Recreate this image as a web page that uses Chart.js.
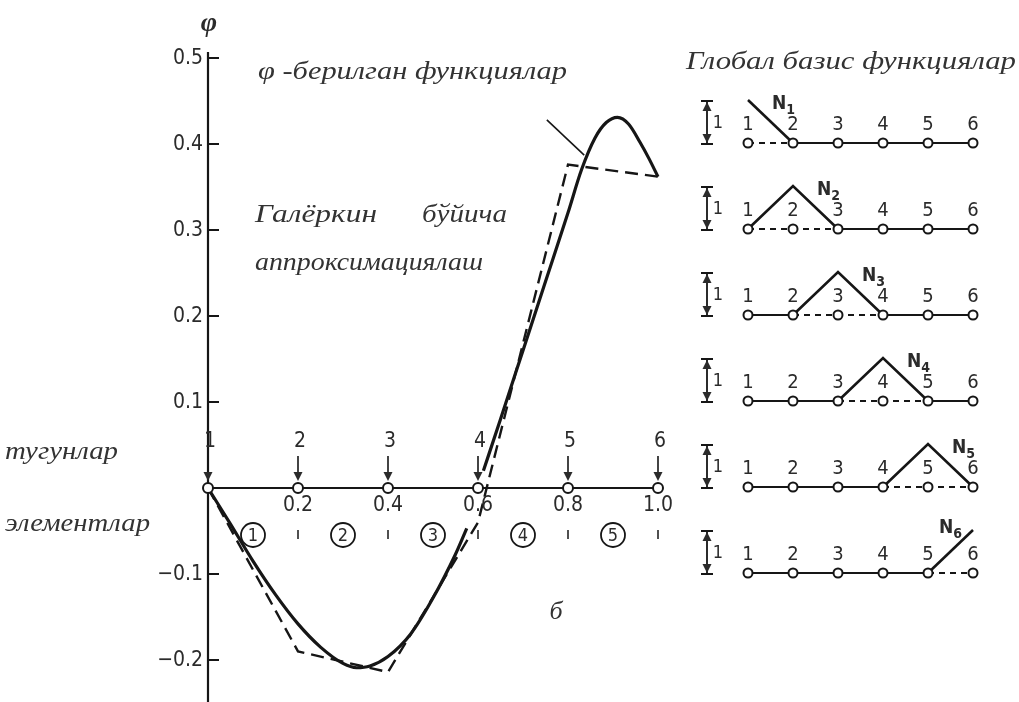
<!DOCTYPE html>
<html>
<head>
<meta charset="utf-8">
<script src="https://cdn.jsdelivr.net/npm/chart.js@4.4.1/dist/chart.umd.min.js"></script>
<style>
  html, body { margin: 0; background: #fff; }
  #wrap { position: relative; width: 1019px; height: 702px; }
</style>
</head>
<body>
<div id="wrap"><canvas id="chart"></canvas></div>
<script>
// main plot: nodes, ticks, labels
const nodeX = [0, 0.2, 0.4, 0.6, 0.8, 1.0];
const nodeLabels = ["1", "2", "3", "4", "5", "6"];
const elementLabels = ["1", "2", "3", "4", "5"];
const xTicks = [0.2, 0.4, 0.6, 0.8, 1.0];
const xTickLabels = ["0.2", "0.4", "0.6", "0.8", "1.0"];
const yTicks = [0.5, 0.4, 0.3, 0.2, 0.1, -0.1, -0.2];
const yTickLabels = ["0.5", "0.4", "0.3", "0.2", "0.1", "\u22120.1", "\u22120.2"];

// given function phi (solid), broken where it crosses node 4
const phiX = [0, 0.05, 0.1, 0.15, 0.2, 0.25, 0.3, 0.33, 0.36, 0.4, 0.45, 0.5, 0.55, 0.575,
  0.593, 0.612, 0.65, 0.7, 0.75, 0.8, 0.83, 0.86, 0.885, 0.91, 0.935, 0.96, 0.98, 1.0];
const phiY = [0, -0.042, -0.085, -0.124, -0.158, -0.185, -0.204, -0.209, -0.207, -0.196, -0.17, -0.128, -0.077, -0.047,
  null, 0.02, 0.08, 0.16, 0.24, 0.32, 0.37, 0.407, 0.425, 0.431, 0.423, 0.402, 0.383, 0.362];

// Galerkin approximation at the nodes (dashed)
const galerkinY = [0, -0.19, -0.214, -0.04, 0.376, 0.362];

// pointer stroke near the peak
const pointerX = [0.753, 0.836];
const pointerY = [0.428, 0.387];

// global basis functions N1..N6
const basisNodes = [1, 2, 3, 4, 5, 6];
const basisRows = [1, 2, 3, 4, 5, 6];
const rowBase = [0, -2, -4, -6, -8, -10];

const INK = "#161616";
const TEXT = "#2b2b2b";
const SERIF_IT = "italic 26px 'Liberation Serif', 'DejaVu Serif', serif";
const NUM_FONT = "'DejaVu Sans Condensed', 'Liberation Sans Narrow', 'DejaVu Sans', sans-serif";

const datasets = [];

datasets.push({
  label: "nodes",
  data: nodeX.map((x) => ({ x, y: 0 })),
  borderColor: INK,
  borderWidth: 2.2,
  pointRadius: 5,
  pointBorderWidth: 2,
  pointBackgroundColor: "#fff",
  pointBorderColor: INK,
  order: 0,
});

basisRows.forEach((k, i) => {
  datasets.push({
    label: "row" + k,
    xAxisID: "bx",
    yAxisID: "by",
    data: basisNodes.map((n) => ({ x: n, y: rowBase[i] })),
    borderColor: INK,
    borderWidth: 2.2,
    pointRadius: 4.5,
    pointBorderWidth: 2,
    pointBackgroundColor: "#fff",
    pointBorderColor: INK,
    segment: {
      borderDash: (ctx) =>
        ctx.p0DataIndex + 1 >= k - 1 && ctx.p1DataIndex + 1 <= k + 1 ? [6, 5] : undefined,
    },
    order: 0,
  });
});

basisRows.forEach((k, i) => {
  datasets.push({
    label: "N" + k,
    xAxisID: "bx",
    yAxisID: "by",
    data: basisNodes
      .filter((n) => Math.abs(n - k) <= 1)
      .map((n) => ({ x: n, y: rowBase[i] + (n === k ? 1 : 0) })),
    borderColor: INK,
    borderWidth: 2.6,
    pointRadius: 0,
    order: 1,
  });
});

datasets.push({
  label: "phi",
  data: phiX.map((x, i) => ({ x, y: phiY[i] })),
  borderColor: INK,
  borderWidth: 3.2,
  pointRadius: 0,
  cubicInterpolationMode: "monotone",
  spanGaps: false,
  order: 1,
});

datasets.push({
  label: "galerkin",
  data: nodeX.map((x, i) => ({ x, y: galerkinY[i] })),
  borderColor: INK,
  borderWidth: 2.4,
  borderDash: [13, 7],
  pointRadius: 0,
  order: 2,
});

datasets.push({
  label: "pointer",
  data: pointerX.map((x, i) => ({ x, y: pointerY[i] })),
  borderColor: INK,
  borderWidth: 1.6,
  pointRadius: 0,
  order: 2,
});

function stretchText(ctx, text, x, y, width, font) {
  ctx.save();
  ctx.font = font;
  const w = ctx.measureText(text).width;
  ctx.translate(x, y);
  ctx.scale(width / w, 1);
  ctx.textAlign = "left";
  ctx.textBaseline = "middle";
  ctx.fillText(text, 0, 0);
  ctx.restore();
}

function arrowHead(ctx, x, y, dir, size) {
  // dir: 1 points down, -1 points up
  ctx.beginPath();
  ctx.moveTo(x, y);
  ctx.lineTo(x - size * 0.5, y - dir * size);
  ctx.lineTo(x + size * 0.5, y - dir * size);
  ctx.closePath();
  ctx.fill();
}

const figurePlugin = {
  id: "figure",
  beforeDatasetsDraw(chart) {
    const { ctx, scales: { x, y } } = chart;
    const x0 = x.getPixelForValue(0);
    ctx.save();
    ctx.strokeStyle = INK;
    ctx.lineWidth = 2.2;
    ctx.beginPath();
    ctx.moveTo(x0, y.getPixelForValue(0.5) - 6);
    ctx.lineTo(x0, chart.height);
    ctx.stroke();
    ctx.lineWidth = 2;
    yTicks.forEach((v) => {
      const py = y.getPixelForValue(v);
      ctx.beginPath();
      ctx.moveTo(x0, py);
      ctx.lineTo(x0 + 11, py);
      ctx.stroke();
    });
    ctx.restore();
  },
  afterDatasetsDraw(chart) {
    const { ctx, scales: { x, y, bx, by } } = chart;
    const x0 = x.getPixelForValue(0);
    const y0 = y.getPixelForValue(0);
    ctx.save();
    ctx.fillStyle = TEXT;
    ctx.strokeStyle = INK;

    // y tick labels
    ctx.font = "21px " + NUM_FONT;
    ctx.textAlign = "right";
    ctx.textBaseline = "middle";
    yTicks.forEach((v, i) => {
      ctx.fillText(yTickLabels[i], x0 - 5, y.getPixelForValue(v) + 1);
    });

    // phi symbol at top of axis
    ctx.font = "bold italic 28px 'Liberation Serif', serif";
    ctx.textAlign = "center";
    ctx.fillText("\u03c6", x0 + 1, 24);

    // x tick labels and little ticks under them
    ctx.font = "21px " + NUM_FONT;
    ctx.lineWidth = 1.5;
    xTicks.forEach((v, i) => {
      const px = x.getPixelForValue(v);
      ctx.fillText(xTickLabels[i], px, y0 + 18);
      ctx.beginPath();
      ctx.moveTo(px, y0 + 42);
      ctx.lineTo(px, y0 + 51);
      ctx.stroke();
    });

    // node numbers with arrows
    ctx.lineWidth = 1.6;
    nodeX.forEach((v, i) => {
      const px = x.getPixelForValue(v);
      ctx.font = "21px " + NUM_FONT;
      ctx.fillText(nodeLabels[i], px + 2, y0 - 46);
      ctx.beginPath();
      ctx.moveTo(px, y0 - 32);
      ctx.lineTo(px, y0 - 9);
      ctx.stroke();
      arrowHead(ctx, px, y0 - 7, 1, 9);
    });

    // element numbers in circles
    elementLabels.forEach((lab, i) => {
      const px = x.getPixelForValue((nodeX[i] + nodeX[i + 1]) / 2);
      const py = y0 + 47;
      ctx.beginPath();
      ctx.arc(px, py, 12, 0, Math.PI * 2);
      ctx.lineWidth = 1.8;
      ctx.stroke();
      ctx.font = "18px " + NUM_FONT;
      ctx.fillText(lab, px, py + 1);
    });

    // captions
    ctx.fillStyle = "#333";
    stretchText(ctx, "\u03c6 -берилган функциялар", 258, 72, 309, SERIF_IT);
    stretchText(ctx, "Галёркин", 255, 215, 122, SERIF_IT);
    stretchText(ctx, "бўйича", 422, 215, 85, SERIF_IT);
    stretchText(ctx, "аппроксимациялаш", 255, 263, 228, SERIF_IT);
    stretchText(ctx, "тугунлар", 5, 452, 113, SERIF_IT);
    stretchText(ctx, "элементлар", 5, 524, 145, SERIF_IT);
    stretchText(ctx, "Глобал базис функциялар", 686, 62, 330, SERIF_IT);
    ctx.font = "italic 26px 'Liberation Serif', serif";
    ctx.textAlign = "center";
    ctx.fillText("б", 556, 612);

    // basis panel labels
    ctx.fillStyle = TEXT;
    basisRows.forEach((k, i) => {
      const base = by.getPixelForValue(rowBase[i]);
      const top = by.getPixelForValue(rowBase[i] + 1);
      ctx.font = "20px " + NUM_FONT;
      ctx.textAlign = "center";
      basisNodes.forEach((n, j) => {
        ctx.fillText(nodeLabels[j], bx.getPixelForValue(n), base - 18);
      });

      // scale bar with arrows
      const sx = bx.getPixelForValue(basisNodes[0]) - 41;
      ctx.lineWidth = 1.8;
      ctx.beginPath();
      ctx.moveTo(sx, top + 1);
      ctx.lineTo(sx, base + 1);
      ctx.moveTo(sx - 6, top + 1);
      ctx.lineTo(sx + 6, top + 1);
      ctx.moveTo(sx - 6, base + 1);
      ctx.lineTo(sx + 6, base + 1);
      ctx.stroke();
      arrowHead(ctx, sx, top + 2, -1, 9);
      arrowHead(ctx, sx, base, 1, 9);
      ctx.font = "18px " + NUM_FONT;
      ctx.fillText("1", sx + 11, (top + base) / 2 + 2);

      // N_k label
      const peakX = bx.getPixelForValue(k);
      const nx = k < 6 ? peakX + 24 : peakX - 34;
      const ny = k < 6 ? top + 4 : top - 2;
      ctx.font = "bold 19px " + NUM_FONT;
      ctx.textAlign = "left";
      ctx.fillText("N", nx, ny);
      const nw = ctx.measureText("N").width;
      ctx.font = "bold 14px " + NUM_FONT;
      ctx.fillText(String(k), nx + nw, ny + 6);
    });
    ctx.restore();
  },
};

new Chart(document.getElementById("chart"), {
  type: "line",
  data: { datasets },
  options: {
    responsive: true,
    maintainAspectRatio: false,
    animation: false,
    layout: { padding: 0, autoPadding: false },
    plugins: { legend: { display: false }, tooltip: { enabled: false } },
    scales: {
      x: { type: "linear", min: -208 / 450, max: -208 / 450 + 1019 / 450, display: false },
      y: { type: "linear", min: 488 / 860 - 702 / 860, max: 488 / 860, display: false },
      bx: { type: "linear", axis: "x", min: 1 - 748 / 45, max: 1 - 748 / 45 + 1019 / 45, display: false },
      by: { type: "linear", axis: "y", min: 143 / 43 - 702 / 43, max: 143 / 43, display: false },
    },
  },
  plugins: [figurePlugin],
});
</script>
</body>
</html>
